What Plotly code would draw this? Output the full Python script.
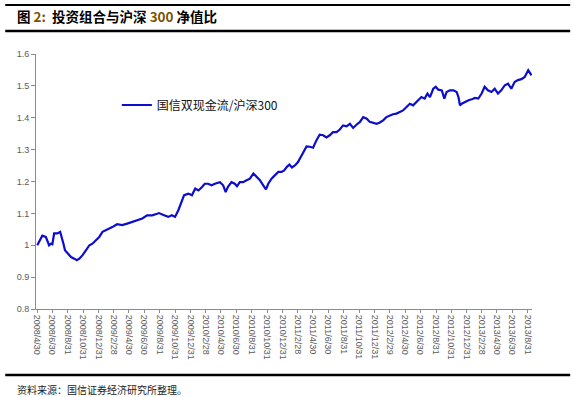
import plotly.graph_objects as go

# ---- data ----
dates = [
    "2008-05-01", "2008-05-21", "2008-06-04", "2008-06-10", "2008-06-17", "2008-06-24", "2008-06-30",
    "2008-07-07", "2008-07-20", "2008-07-31", "2008-08-05", "2008-08-13", "2008-08-19", "2008-08-29",
    "2008-09-12", "2008-09-25", "2008-10-05", "2008-10-15", "2008-10-28", "2008-11-10", "2008-11-24",
    "2008-12-06", "2008-12-20", "2009-01-02", "2009-01-15", "2009-01-29", "2009-02-10", "2009-02-23",
    "2009-03-14", "2009-04-03", "2009-04-23", "2009-05-13", "2009-06-02", "2009-06-22", "2009-07-11",
    "2009-07-31", "2009-08-20", "2009-08-27", "2009-09-14", "2009-10-03", "2009-10-17", "2009-10-30",
    "2009-11-12", "2009-11-26", "2009-12-05", "2009-12-22", "2010-01-05", "2010-01-18", "2010-01-31",
    "2010-02-14", "2010-02-25", "2010-03-10", "2010-03-24", "2010-04-06", "2010-04-26", "2010-05-09",
    "2010-05-19", "2010-05-28", "2010-06-11", "2010-06-24", "2010-07-03", "2010-07-14", "2010-07-27",
    "2010-08-10", "2010-08-23", "2010-09-06", "2010-09-19", "2010-10-02", "2010-10-15", "2010-10-26",
    "2010-11-04", "2010-11-17", "2010-12-01", "2010-12-14", "2010-12-27", "2011-01-06", "2011-01-17",
    "2011-01-27", "2011-02-06", "2011-02-19", "2011-03-02", "2011-03-16", "2011-03-29", "2011-04-05",
    "2011-04-18", "2011-05-01", "2011-05-14", "2011-05-27", "2011-06-10", "2011-06-23", "2011-07-06",
    "2011-07-19", "2011-08-02", "2011-08-15", "2011-08-28", "2011-09-11", "2011-09-24", "2011-10-07",
    "2011-10-20", "2011-11-03", "2011-11-16", "2011-11-30", "2011-12-12", "2011-12-25", "2012-01-08",
    "2012-01-21", "2012-02-03", "2012-02-16", "2012-03-01", "2012-03-13", "2012-03-27", "2012-04-09",
    "2012-04-22", "2012-05-06", "2012-05-19", "2012-06-01", "2012-06-08", "2012-06-21", "2012-07-04",
    "2012-07-17", "2012-07-28", "2012-08-07", "2012-08-20", "2012-08-30", "2012-09-09", "2012-09-23",
    "2012-10-03", "2012-10-12", "2012-10-25", "2012-11-08", "2012-11-21", "2012-11-28", "2012-12-04",
    "2012-12-11", "2012-12-24", "2013-01-07", "2013-01-20", "2013-02-02", "2013-02-15", "2013-02-28",
    "2013-03-12", "2013-03-25", "2013-04-08", "2013-04-21", "2013-05-04", "2013-05-17", "2013-05-31",
    "2013-06-13", "2013-06-26", "2013-07-09", "2013-07-22", "2013-08-05", "2013-08-18", "2013-09-01",
    "2013-09-14",
]
ratio = [
    1.000, 1.030, 1.026, 1.015, 1.000, 1.005, 1.003,
    1.037, 1.037, 1.042, 1.030, 1.005, 0.984, 0.974,
    0.963, 0.958, 0.953, 0.958, 0.969, 0.984, 1.000,
    1.005, 1.016, 1.026, 1.042, 1.047, 1.052, 1.057,
    1.066, 1.063, 1.068, 1.073, 1.078, 1.084, 1.094,
    1.094, 1.099, 1.101, 1.095, 1.089, 1.094, 1.089,
    1.110, 1.136, 1.157, 1.162, 1.157, 1.178, 1.172,
    1.183, 1.193, 1.193, 1.188, 1.193, 1.198, 1.188,
    1.167, 1.183, 1.198, 1.193, 1.185, 1.198, 1.198,
    1.204, 1.209, 1.225, 1.216, 1.204, 1.188, 1.175,
    1.193, 1.209, 1.220, 1.230, 1.230, 1.235, 1.246,
    1.253, 1.244, 1.251, 1.261, 1.282, 1.303, 1.310,
    1.309, 1.306, 1.329, 1.347, 1.345, 1.338, 1.345,
    1.355, 1.355, 1.363, 1.376, 1.373, 1.381, 1.368,
    1.378, 1.387, 1.402, 1.397, 1.387, 1.385, 1.381,
    1.385, 1.392, 1.402, 1.408, 1.411, 1.413, 1.418,
    1.423, 1.434, 1.444, 1.439, 1.444, 1.455, 1.465,
    1.460, 1.476, 1.465, 1.491, 1.497, 1.488, 1.486,
    1.460, 1.481, 1.486, 1.486, 1.481, 1.465, 1.439,
    1.444, 1.450, 1.455, 1.458, 1.462, 1.460, 1.476,
    1.497, 1.486, 1.481, 1.491, 1.476, 1.486, 1.502,
    1.507, 1.491, 1.512, 1.518, 1.521, 1.528, 1.549,
    1.533,
]
series_name = "国信双现金流/沪深300"

tick_dates = [
    "2008-04-30", "2008-06-30", "2008-08-31", "2008-10-31", "2008-12-31",
    "2009-02-28", "2009-04-30", "2009-06-30", "2009-08-31", "2009-10-31", "2009-12-31",
    "2010-02-28", "2010-04-30", "2010-06-30", "2010-08-31", "2010-10-31", "2010-12-31",
    "2011-02-28", "2011-04-30", "2011-06-30", "2011-08-31", "2011-10-31", "2011-12-31",
    "2012-02-29", "2012-04-30", "2012-06-30", "2012-08-31", "2012-10-31", "2012-12-31",
    "2013-02-28", "2013-04-30", "2013-06-30", "2013-08-31",
]
tick_labels = [d.replace("-0", "/").replace("-", "/") for d in tick_dates]
y_ticks = [0.8, 0.9, 1.0, 1.1, 1.2, 1.3, 1.4, 1.5, 1.6]
y_labels = ["0.8", "0.9", "1", "1.1", "1.2", "1.3", "1.4", "1.5", "1.6"]

title_html = ("<b>图 <span style='color:#7a5200'>2:</span>  投资组合与沪深 "
              "<span style='color:#7a5200'>300</span> 净值比</b>")
source_text = "资料来源：国信证券经济研究所整理。"

# ---- figure ----
fig = go.Figure()
fig.add_trace(go.Scatter(
    x=dates, y=ratio, mode="lines", name=series_name,
    line=dict(color="#0d0dcc", width=2.2),
))

axis_color = "#8c8c8c"
tick_font = dict(family="Liberation Sans, Arial", size=9, color="#595959")

fig.update_layout(
    width=575, height=397,
    margin=dict(l=36, r=43, t=54, b=88),
    paper_bgcolor="white", plot_bgcolor="white",
    showlegend=True,
    legend=dict(
        x=0.163, y=0.80, xanchor="left", yanchor="middle",
        bgcolor="rgba(0,0,0,0)",
        font=dict(family="Noto Sans CJK SC", size=12, color="#111111"),
        itemwidth=30,
    ),
    xaxis=dict(
        type="date",
        range=["2008-04-26", "2013-09-16"],
        tickmode="array", tickvals=tick_dates, ticktext=tick_labels,
        tickangle=90, tickfont=tick_font,
        showline=True, linecolor=axis_color, linewidth=1,
        ticks="outside", ticklen=3, tickcolor=axis_color,
        showgrid=False, zeroline=False, automargin=False,
    ),
    yaxis=dict(
        range=[0.8, 1.6],
        tickmode="array", tickvals=y_ticks, ticktext=y_labels,
        tickfont=tick_font,
        showline=True, linecolor=axis_color, linewidth=1,
        ticks="outside", ticklen=4, tickcolor=axis_color,
        showgrid=False, zeroline=False, automargin=False,
    ),
    shapes=[
        dict(type="rect", xref="paper", yref="paper", x0=-0.062, x1=1.077, y0=1.188, y1=1.196,
             fillcolor="black", line=dict(width=0), layer="above"),
        dict(type="line", xref="paper", yref="paper", x0=-0.062, x1=1.077, y0=1.090, y1=1.090,
             line=dict(color="black", width=2.5)),
        dict(type="line", xref="paper", yref="paper", x0=-0.062, x1=1.077, y0=-0.259, y1=-0.259,
             line=dict(color="black", width=2.5)),
    ],
    annotations=[
        dict(text=title_html, xref="paper", yref="paper", x=-0.042, y=1.149,
             xanchor="left", yanchor="middle", showarrow=False,
             font=dict(family="Noto Sans CJK SC", size=13.5, color="black")),
        dict(text=source_text, xref="paper", yref="paper", x=-0.042, y=-0.314,
             xanchor="left", yanchor="middle", showarrow=False,
             font=dict(family="Noto Sans CJK SC", size=10, color="#222222")),
    ],
)

fig.write_html("out.html", config={"displayModeBar": False},
               post_script="document.body.style.margin='0';")
